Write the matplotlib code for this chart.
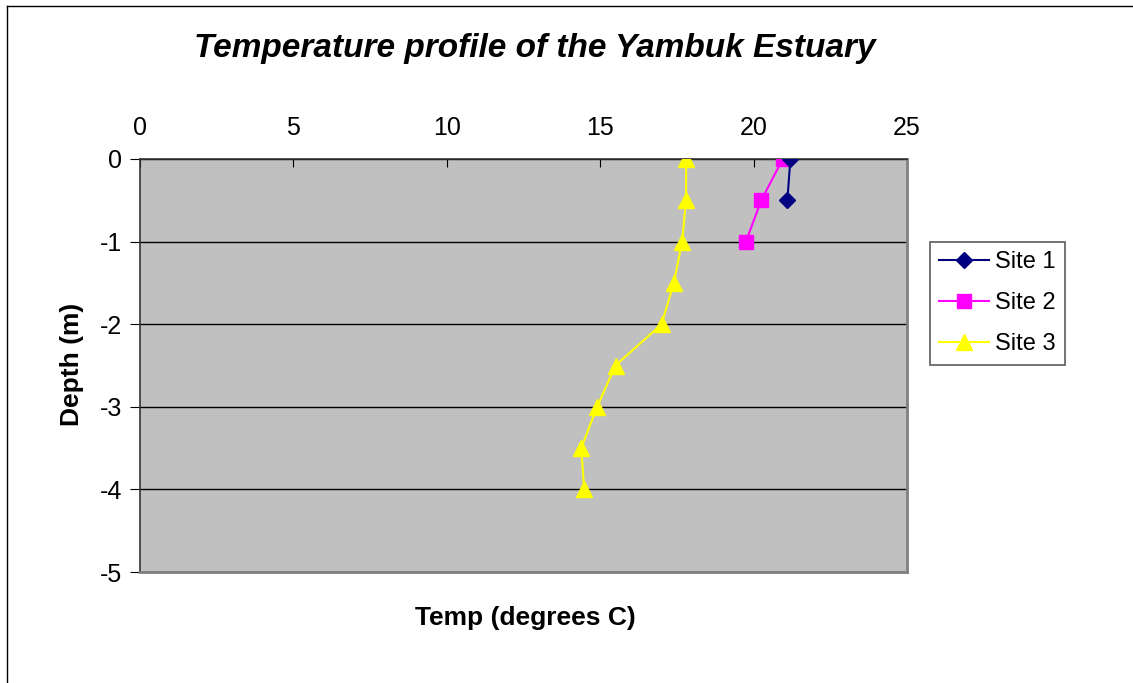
import matplotlib
matplotlib.use("Agg")
import matplotlib.pyplot as plt
from matplotlib.lines import Line2D

plt.rcParams['font.family'] = ['Liberation Sans', 'DejaVu Sans']

depth1 = [0, -0.5]
temp1 = [21.2, 21.1]
depth2 = [0, -0.5, -1]
temp2 = [20.95, 20.25, 19.75]
depth3 = [0, -0.5, -1, -1.5, -2, -2.5, -3, -3.5, -4]
temp3 = [17.8, 17.8, 17.67, 17.4, 17.0, 15.5, 14.9, 14.38, 14.48]

x_ticks = [0, 5, 10, 15, 20, 25]
y_ticks = [0, -1, -2, -3, -4, -5]

W, H = 1133, 683
fig = plt.figure(figsize=(W / 100, H / 100), dpi=100)
fig.patch.set_facecolor('white')

# figure border (left & top visible)
fig.add_artist(Line2D([7 / W, 7 / W], [0, 1 - 6 / H], color='black', lw=1.0, transform=fig.transFigure))
fig.add_artist(Line2D([7 / W, 1], [1 - 6 / H, 1 - 6 / H], color='black', lw=1.0, transform=fig.transFigure))

left, right, top, bottom = 140, 907, 159, 572
ax = fig.add_axes([left / W, 1 - bottom / H, (right - left) / W, (bottom - top) / H])
ax.set_facecolor('#C0C0C0')
ax.set_xlim(0, 25)
ax.set_ylim(-5, 0)

ax.plot(temp1, depth1, color='#000080', marker='D', markersize=8, lw=1.5, label='Site 1', zorder=5)
ax.plot(temp2, depth2, color='#FF00FF', marker='s', markersize=10, lw=1.5, label='Site 2', zorder=4)
ax.plot(temp3, depth3, color='#FFFF00', marker='^', markersize=11, lw=1.5, label='Site 3', zorder=3)

ax.set_yticks(y_ticks)
ax.set_yticklabels([str(v) for v in y_ticks])
ax.set_xticks(x_ticks)
ax.set_xticklabels([str(v) for v in x_ticks])
ax.xaxis.tick_top()
ax.tick_params(axis='x', direction='in', length=6, labelsize=18, pad=14, color='black')
ax.tick_params(axis='y', direction='out', length=7, labelsize=18, pad=6, color='black')
ax.yaxis.grid(True, color='black', lw=1.0)
ax.set_axisbelow(True)

for s in ['left', 'top']:
    ax.spines[s].set_color('#333333')
    ax.spines[s].set_linewidth(1.2)
for s in ['right', 'bottom']:
    ax.spines[s].set_color('#808080')
    ax.spines[s].set_linewidth(2.0)

fig.text(72 / W, 1 - 364 / H, 'Depth (m)', fontsize=19, fontweight='bold', rotation=90,
         ha='center', va='center')
fig.text(525 / W, 1 - 618 / H, 'Temp (degrees C)', fontsize=19, fontweight='bold',
         ha='center', va='center')
fig.text(535 / W, 1 - 48 / H, 'Temperature profile of the Yambuk Estuary', fontsize=24,
         fontweight='bold', style='italic', ha='center', va='center')

leg = fig.legend(loc='upper left', bbox_to_anchor=(930 / W, 1 - 242 / H), fontsize=17,
                 frameon=True, fancybox=False, edgecolor='#333333', handlelength=2.1,
                 borderpad=0.4, labelspacing=0.8, handletextpad=0.25, borderaxespad=0)
leg.get_frame().set_linewidth(1.2)

fig.savefig('out.png', dpi=100)
